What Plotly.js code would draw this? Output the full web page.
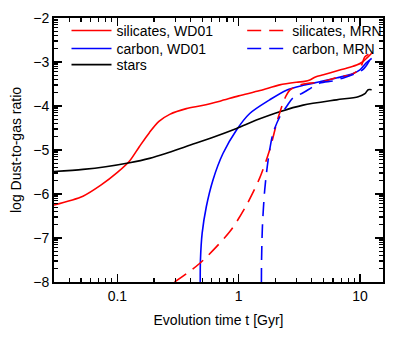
<!DOCTYPE html>
<html lang="en">
<head>
  <meta charset="UTF-8">
  <title>Dust-to-gas ratio</title>
  <script src="https://cdn.plot.ly/plotly-3.0.1.min.js"></script>
  <style>
    body { margin: 0; }
    #chart { width: 407px; height: 349px; }
  </style>
</head>
<body>
  <div id="chart"></div>
  <script>
    // silicates, WD01
    const silWdT = [0.03, 0.052, 0.073, 0.1, 0.126, 0.152, 0.184, 0.22, 0.27, 0.37, 0.5, 0.7, 1, 1.5, 2.18, 3.0, 3.5, 3.86, 4.3, 5.0, 6.5, 8.0, 9.4, 10.5, 11.5, 12.5];
    const silWdY = [-6.25, -6.05, -5.80, -5.51, -5.25, -4.92, -4.60, -4.35, -4.19, -4.06, -3.99, -3.89, -3.77, -3.65, -3.52, -3.46, -3.44, -3.41, -3.34, -3.29, -3.20, -3.13, -3.07, -3.00, -2.90, -2.80];

    // silicates, MRN
    const silMrnT = [0.296, 0.476, 0.843, 1.12, 1.49, 1.80, 2.11, 2.40, 2.64, 3.2, 3.86, 4.95, 6.8, 8.3, 10.0, 11.0, 12.2];
    const silMrnY = [-8, -7.58, -6.86, -6.33, -5.64, -5.00, -4.28, -3.83, -3.64, -3.52, -3.48, -3.45, -3.33, -3.30, -3.15, -2.88, -2.80];

    // carbon, WD01
    const carWdT = [0.482, 0.484, 0.50, 0.541, 0.614, 0.742, 0.957, 1.233, 1.80, 2.48, 3.4, 4.67, 6.5, 8.8, 10.0, 11.0, 12.5];
    const carWdY = [-8, -7.5, -6.89, -6.29, -5.68, -5.08, -4.55, -4.17, -3.86, -3.64, -3.53, -3.45, -3.36, -3.26, -3.18, -3.05, -2.92];

    // carbon, MRN
    const carMrnT = [1.54, 1.545, 1.57, 1.64, 1.75, 1.92, 2.18, 2.5, 2.8, 3.4, 4.67, 6.0, 7.5, 9.0, 10.5, 11.5, 12.5];
    const carMrnY = [-8, -7.5, -6.74, -5.91, -5.23, -4.62, -4.25, -4.0, -3.82, -3.70, -3.48, -3.43, -3.35, -3.27, -3.18, -3.05, -2.88];

    // stars
    const starT = [0.03, 0.052, 0.08, 0.126, 0.184, 0.25, 0.394, 0.6, 0.96, 1.4, 2.18, 3.4, 6.42, 9.68, 11.0, 11.7, 12.5];
    const starY = [-5.49, -5.44, -5.38, -5.29, -5.19, -5.08, -4.89, -4.72, -4.51, -4.32, -4.13, -3.98, -3.86, -3.79, -3.72, -3.63, -3.63];

    const xTicks = [0.1, 1, 10];
    const xTickText = ['0.1', '1', '10'];
    const yTicks = [-8, -7, -6, -5, -4, -3, -2];

    // minor ticks: log spacing inside every decade
    const xMinor = [];
    const yMinor = [];
    [0.01, 0.1, 1, 10].forEach(d => { for (let k = 2; k <= 9; k++) xMinor.push(d * k); });
    yTicks.slice(0, -1).forEach(v => { for (let k = 2; k <= 9; k++) yMinor.push(v + Math.log10(k)); });

    const font = 'Liberation Sans, Arial, sans-serif';
    const dash = '14px,8px';
    const lw = 1.6;

    // one legend per entry so the rows sit as tight as in the original
    const traces = [
      { x: silWdT, y: silWdY, name: 'silicates, WD01', line: { color: '#ff0000', width: lw }, legend: 'legend' },
      { x: carWdT, y: carWdY, name: 'carbon, WD01', line: { color: '#0000ff', width: lw }, legend: 'legend2' },
      { x: starT, y: starY, name: 'stars', line: { color: '#000000', width: lw }, legend: 'legend3' },
      { x: silMrnT, y: silMrnY, name: 'silicates, MRN', line: { color: '#ff0000', width: lw, dash: dash }, legend: 'legend4' },
      { x: carMrnT, y: carMrnY, name: 'carbon, MRN', line: { color: '#0000ff', width: lw, dash: dash }, legend: 'legend5' }
    ].map(t => {
      t.type = 'scatter';
      t.mode = 'lines';
      t.line.shape = 'spline';
      t.line.smoothing = 0.8;
      return t;
    });

    const axisCommon = {
      showline: true, linecolor: '#000', linewidth: 2, mirror: 'allticks',
      ticks: 'inside', ticklen: 8, tickwidth: 1.5, tickcolor: '#000',
      showgrid: false, zeroline: false,
      tickfont: { family: font, size: 14, color: '#000' }
    };

    function leg(x, y) {
      return {
        x: x, y: y, xanchor: 'left', yanchor: 'middle',
        bgcolor: 'rgba(0,0,0,0)', borderwidth: 0,
        font: { family: font, size: 14, color: '#000' },
        itemwidth: 40
      };
    }

    const layout = {
      width: 407, height: 349,
      margin: { l: 54, r: 24, t: 18, b: 67 },
      paper_bgcolor: '#fff', plot_bgcolor: '#fff',
      showlegend: true,
      legend: leg(0.038, 0.951),
      legend2: leg(0.038, 0.883),
      legend3: leg(0.038, 0.822),
      legend4: leg(0.572, 0.951),
      legend5: leg(0.572, 0.883),
      xaxis: Object.assign({}, axisCommon, {
        type: 'log', range: [Math.log10(0.03), Math.log10(15.5)],
        tickmode: 'array', tickvals: xTicks, ticktext: xTickText,
        minor: { tickmode: 'array', tickvals: xMinor, ticks: 'inside', ticklen: 4, tickwidth: 1.2, tickcolor: '#000' },
        title: { text: 'Evolution time t [Gyr]', font: { family: font, size: 14, color: '#000' }, standoff: 12 }
      }),
      yaxis: Object.assign({}, axisCommon, {
        range: [-8, -2],
        tickmode: 'array', tickvals: yTicks,
        minor: { tickmode: 'array', tickvals: yMinor, ticks: 'inside', ticklen: 4, tickwidth: 1.2, tickcolor: '#000' },
        title: { text: 'log Dust-to-gas ratio', font: { family: font, size: 14, color: '#000' }, standoff: 8 }
      })
    };

    Plotly.newPlot('chart', traces, layout, { displayModeBar: false, staticPlot: true });
  </script>
</body>
</html>
